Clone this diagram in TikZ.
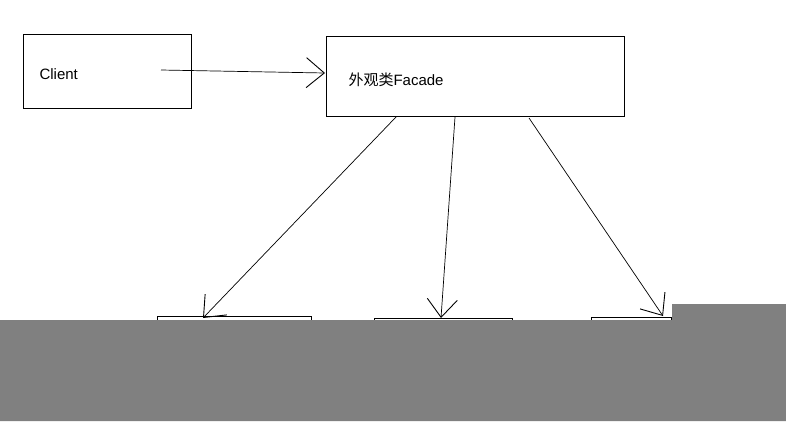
\documentclass[tikz,border=0pt]{standalone}
\usepackage{fontspec}
\setmainfont{Liberation Sans}
\newfontfamily\cjk{Noto Sans CJK SC}
\usetikzlibrary{arrows.meta}
\begin{document}
\begin{tikzpicture}[x=1pt,y=-1pt,
  box/.style={draw,line width=0.8pt},
  arr/.style={line width=0.7pt,-{Straight Barb[length=18pt,width=30pt,line width=0.9pt]}}]
\useasboundingbox (0,0) rectangle (786,421);
\node[box,minimum width=168pt,minimum height=74pt,inner sep=0] (client) at (107,71) {};
\node[anchor=west,font=\fontsize{15}{17}\selectfont] (clientt) at (36,74) {Client};
\node[box,minimum width=298pt,minimum height=80pt,inner sep=0] (facade) at (475,76) {};
\node[anchor=west,font=\fontsize{15}{17}\selectfont] (facadet) at (345,80) {{\cjk 外观类}Facade};
\coordinate (cs) at (161,70);
\coordinate (ft) at (325,73);
\draw[arr] (cs) -- (ft);
\node[box,minimum width=154pt,minimum height=40pt,inner sep=0,anchor=north west] (b1) at (157,316) {};
\node[box,minimum width=138pt,minimum height=40pt,inner sep=0,anchor=north west] (b2) at (374,318) {};
\node[box,minimum width=80pt,minimum height=40pt,inner sep=0,anchor=north west] (b3) at (591,317) {};
\coordinate (f1) at (396,117); \coordinate (t1) at (203,318);
\coordinate (f2) at (455,117); \coordinate (t2) at (441,318);
\coordinate (f3) at (529,118); \coordinate (t3) at (663,316);
\draw[arr] (f1) -- (t1);
\draw[arr] (f2) -- (t2);
\draw[arr] (f3) -- (t3);
\fill[fill={rgb,255:red,128;green,128;blue,128}] (0,320) -- (672,320) -- (672,304) -- (786,304) -- (786,421) -- (0,421) -- cycle;
\end{tikzpicture}
\end{document}
